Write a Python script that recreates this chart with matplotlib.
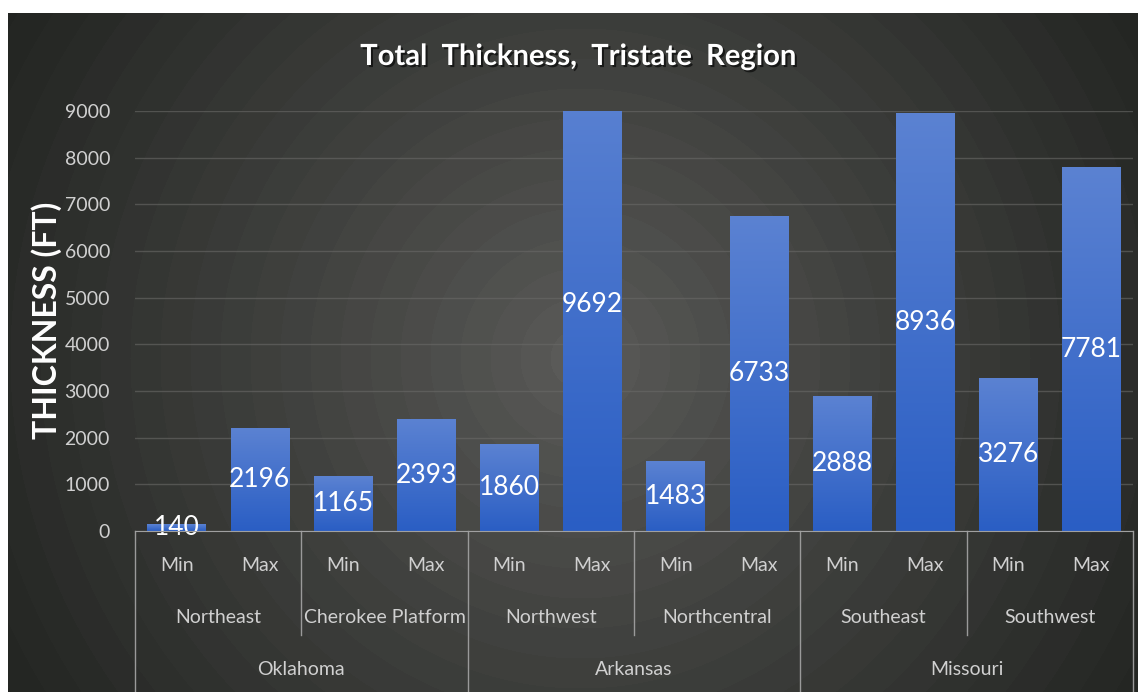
import numpy as np
import matplotlib.pyplot as plt
import matplotlib.patheffects as pe
from matplotlib.colors import LinearSegmentedColormap

# data
states = ["Oklahoma", "Arkansas", "Missouri"]
regions = ["Northeast", "Cherokee Platform", "Northwest", "Northcentral", "Southeast", "Southwest"]
levels = ["Min", "Max"]
thickness = [140, 2196, 1165, 2393, 1860, 9692, 1483, 6733, 2888, 8936, 3276, 7781]
yticks = [0, 1000, 2000, 3000, 4000, 5000, 6000, 7000, 8000, 9000]

W, H = 1138, 692
fig = plt.figure(figsize=(W / 100, H / 100), dpi=100, facecolor="white")

# dark radial background
bg = fig.add_axes([8 / W, 0, (W - 8) / W, (H - 13) / H])
bg.set_axis_off()
yy, xx = np.mgrid[0:H - 13, 0:W - 8]
r = np.hypot(xx - 572, yy - 345) / 660
r = np.clip(np.floor(r * 22) / 22, 0, 1) ** 0.9
c0 = np.array([90, 90, 88]) / 255
c1 = np.array([34, 36, 33]) / 255
img = c0[None, None, :] * (1 - r[..., None]) + c1[None, None, :] * r[..., None]
bg.imshow(img, aspect="auto", interpolation="bilinear")

ax = fig.add_axes([135 / W, (H - 531) / H, (1133 - 135) / W, (531 - 111) / H])
ax.patch.set_alpha(0)
x = np.arange(len(thickness))
bars = ax.bar(x, thickness, width=0.7, color="#3d6bcb", zorder=3)

cmap = LinearSegmentedColormap.from_list("bar", ["#2a5ec4", "#5b82d2"])
grad = np.linspace(0, 1, 256).reshape(-1, 1)
for b in bars:
    x0, w, h = b.get_x(), b.get_width(), b.get_height()
    im = ax.imshow(grad, cmap=cmap, origin="lower", aspect="auto",
                   extent=(x0, x0 + w, 0, h), zorder=3.5)
    im.set_clip_path(b)
    im.set_clip_box(ax.bbox)
ax.set_xlim(-0.5, len(thickness) - 0.5)
ax.set_ylim(0, 9000)

for xi, v in zip(x, thickness):
    ax.text(xi, v / 2, str(v), ha="center", va="center", color="white",
            fontsize=19, family="Lato", zorder=5)

ax.set_yticks(yticks)
ax.set_yticklabels([str(t) for t in yticks], color="#d0d0d0", fontsize=14, family="Lato")
ax.tick_params(axis="y", length=0, pad=18)
ax.set_xticks([])
ax.grid(axis="y", color="#6a6a68", linewidth=1, alpha=0.6, zorder=0)
for s in ["top", "right", "left"]:
    ax.spines[s].set_visible(False)
ax.spines["bottom"].set_color("#a0a0a0")
ax.spines["bottom"].set_zorder(6)

# multi-level category axis
tr = ax.get_xaxis_transform()
txt_kw = dict(ha="center", va="center", color="#d0d0d0", fontsize=14, family="Lato", transform=tr)
line_kw = dict(color="#9a9a9a", linewidth=1, clip_on=False, transform=tr)
y_lvl, y_reg, y_st = -0.083, -0.205, -0.329
y_reg_line, y_bottom = -0.248, -0.40
for i, xi in enumerate(x):
    ax.text(xi, y_lvl, levels[i % 2], **txt_kw)
for j, reg in enumerate(regions):
    ax.text(2 * j + 0.5, y_reg, reg, **txt_kw)
for k, st in enumerate(states):
    ax.text(4 * k + 1.5, y_st, st, **txt_kw)
for j in range(len(regions) + 1):
    xb = 2 * j - 0.5
    y_end = y_bottom if j % 2 == 0 else y_reg_line
    ax.plot([xb, xb], [0, y_end], **line_kw)

fig.text(578 / W, 1 - 57 / H, "Total  Thickness,  Tristate  Region", ha="center", va="center",
         color="white", fontsize=21, fontweight="bold", family="Lato",
         path_effects=[pe.withSimplePatchShadow(offset=(1.5, -1.5), shadow_rgbFace="black", alpha=0.6)])
fig.text(47 / W, 1 - 320 / H, "THICKNESS (FT)", ha="center", va="center", rotation=90,
         color="white", fontsize=23, fontweight="bold", family="Lato")

fig.savefig("out.png", dpi=100)
